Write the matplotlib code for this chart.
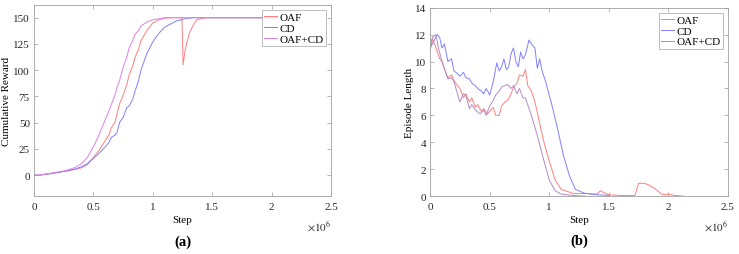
import matplotlib
matplotlib.use("Agg")
import matplotlib.pyplot as plt

plt.rcParams["font.family"] = ["Liberation Serif", "DejaVu Serif"]
plt.rcParams["mathtext.fontset"] = "stix"

# ---------- (a) cumulative reward, step in units of 1e6 ----------
reward_x = [0.0, 0.05, 0.1, 0.15, 0.2, 0.25, 0.3, 0.35, 0.4, 0.45, 0.5, 0.55, 0.6,
            0.63, 0.65, 0.68, 0.7, 0.72, 0.75, 0.78, 0.8, 0.83, 0.85, 0.88, 0.9, 0.95,
            1.0, 1.05, 1.1, 1.15, 1.2, 1.24, 1.245, 1.255, 1.27, 1.29, 1.31, 1.34,
            1.37, 1.4, 1.45, 1.5, 1.6, 1.8, 2.05]
reward_oaf = [0, 0, 1, 1.5, 2.5, 3.5, 4.5, 5.5, 7, 10, 17, 24, 33, 38, 45, 50, 59,
              68, 76, 86, 95, 104, 112, 120, 128, 138, 145, 148, 149.5, 150, 150, 150,
              149, 105, 118, 128, 136, 143, 148, 149, 150, 150, 150, 150, 150]
reward_cd = [0, 0, 1, 1.5, 2.5, 3.5, 4.5, 6, 8, 11, 16, 21, 27, 31, 36, 38, 41, 50,
             55, 64, 66, 72, 80, 90, 100, 116, 127, 135, 141, 144, 147, 148, 148.5,
             148.5, 149, 149.5, 149.5, 150, 150, 150, 150, 150, 150, 150, 150]
reward_both = [0, 0, 1, 2, 3, 4, 5.5, 7.5, 11, 17, 27, 39, 53, 61, 67, 76, 84, 90,
               103, 112, 121, 128, 134, 138, 142, 146, 148, 149, 150, 150, 150, 150,
               150, 150, 150, 150, 150, 150, 150, 150, 150, 150, 150, 150, 150]

# ---------- (b) episode length ----------
len_x_oaf = [0.0, 0.02, 0.05, 0.08, 0.1, 0.13, 0.15, 0.18, 0.2, 0.23, 0.25, 0.28, 0.3,
             0.33, 0.35, 0.38, 0.4, 0.43, 0.45, 0.48, 0.5, 0.53, 0.55, 0.58, 0.6, 0.63,
             0.65, 0.68, 0.7, 0.73, 0.75, 0.78, 0.8, 0.82, 0.85, 0.88, 0.9, 0.95, 1.0,
             1.05, 1.1, 1.2, 1.3, 1.4, 1.43, 1.46, 1.5, 1.6, 1.72, 1.75, 1.8, 1.83, 1.88,
             1.95, 2.0, 2.05, 2.13]
len_oaf = [10.8, 11.7, 11.0, 10.2, 10.0, 9.2, 8.8, 9.0, 8.6, 8.2, 8.0, 7.3, 7.6, 7.0,
           7.3, 6.6, 6.8, 6.3, 6.5, 6.1, 6.3, 6.6, 6.0, 6.0, 6.7, 7.0, 7.1, 7.6, 8.1,
           8.4, 9.0, 8.9, 9.4, 8.2, 7.8, 7.0, 6.2, 4.2, 2.6, 1.2, 0.5, 0.2, 0.2, 0.15,
           0.4, 0.25, 0.1, 0.05, 0.05, 0.95, 0.95, 0.85, 0.6, 0.1, 0.15, 0.05, 0.0]

len_x_cd = [0.0, 0.03, 0.06, 0.08, 0.1, 0.12, 0.15, 0.18, 0.2, 0.23, 0.25, 0.28, 0.3,
            0.33, 0.35, 0.38, 0.4, 0.43, 0.45, 0.47, 0.49, 0.5, 0.53, 0.56, 0.58, 0.6,
            0.62, 0.64, 0.66, 0.68, 0.7, 0.72, 0.74, 0.76, 0.78, 0.8, 0.83, 0.85, 0.88,
            0.9, 0.92, 0.94, 0.97, 1.0, 1.03, 1.07, 1.12, 1.17, 1.22, 1.3, 1.4, 1.5]
len_cd = [11.0, 11.5, 12.0, 11.8, 11.0, 11.3, 10.0, 10.2, 9.3, 9.1, 8.9, 9.2, 8.8, 8.7,
          8.4, 8.2, 8.0, 7.8, 7.6, 8.0, 7.7, 7.5, 8.5, 9.9, 9.3, 9.6, 10.2, 9.4, 9.6,
          10.6, 11.0, 10.0, 9.6, 10.7, 10.2, 10.5, 11.6, 11.3, 11.0, 9.5, 10.2, 9.3, 8.5,
          7.5, 6.5, 5.0, 3.0, 1.5, 0.5, 0.2, 0.1, 0.05]

len_x_both = [0.0, 0.02, 0.05, 0.07, 0.1, 0.13, 0.15, 0.18, 0.2, 0.23, 0.25, 0.28, 0.3,
              0.33, 0.35, 0.38, 0.42, 0.45, 0.47, 0.5, 0.53, 0.55, 0.58, 0.6, 0.65,
              0.68, 0.7, 0.73, 0.75, 0.78, 0.8, 0.85, 0.9, 0.95, 1.0, 1.05, 1.1, 1.2, 1.3]
len_both = [11.2, 11.8, 12.0, 11.0, 10.0, 9.2, 8.7, 8.8, 8.5, 7.6, 7.0, 7.6, 7.5, 6.5,
            6.8, 6.4, 6.1, 6.4, 6.0, 6.7, 7.1, 7.5, 7.8, 8.1, 8.3, 8.0, 8.2, 7.6, 8.0,
            7.3, 7.3, 6.0, 4.5, 2.8, 1.2, 0.4, 0.15, 0.05, 0.0]

series_names = ["OAF", "CD", "OAF+CD"]
red, blue = "#ff7f7f", "#8080ff"

fig = plt.figure(figsize=(7.39, 2.55), dpi=100)
ax1 = fig.add_axes([0.046, 0.227, 0.402, 0.749])
ax2 = fig.add_axes([0.582, 0.227, 0.403, 0.739])

ax1.plot(reward_x, reward_oaf, color=red, lw=0.7, label=series_names[0])
ax1.plot(reward_x, reward_cd, color=blue, lw=0.7, label=series_names[1])
ax1.plot(reward_x, reward_both, color="#e07fe8", lw=0.7, label=series_names[2])
ax1.set_ylim(-20, 162)
ax1.set_yticks([0, 25, 50, 75, 100, 125, 150])
ax1.set_ylabel("Cumulative Reward", fontsize=8)
ax1.yaxis.set_label_coords(-0.076, 0.5)

ax2.plot(len_x_oaf, len_oaf, color=red, lw=0.7, label=series_names[0])
ax2.plot(len_x_cd, len_cd, color=blue, lw=0.7, label=series_names[1])
ax2.plot(len_x_both, len_both, color="#b08cc8", lw=0.7, label=series_names[2])
ax2.set_ylim(0, 14)
ax2.set_yticks(range(0, 15, 2))
ax2.set_ylabel("Episode Length", fontsize=8)
ax2.yaxis.set_label_coords(-0.053, 0.5)

for ax, tag in [(ax1, "(a)"), (ax2, "(b)")]:
    ax.set_xlim(0, 2.5)
    ax.set_xticks([0, 0.5, 1, 1.5, 2, 2.5])
    ax.set_xticklabels(["0", "0.5", "1", "1.5", "2", "2.5"])
    ax.set_xlabel("Step", fontsize=8, labelpad=3)
    ax.tick_params(direction="in", length=3, width=0.5, colors="#999999",
                   labelcolor="#262626", labelsize=8, top=True, right=True, pad=4)
    ax.tick_params(axis="y", pad=3)
    for sp in ax.spines.values():
        sp.set_color("#a0a0a0")
        sp.set_linewidth(0.6)
    ax.text(1.0, -0.12, r"$\times10^6$", transform=ax.transAxes, ha="right",
            va="top", fontsize=8, color="#262626")
    ax.text(0.5, -0.2, tag, transform=ax.transAxes, ha="center", va="top",
            fontsize=10.5, fontweight="bold")
    leg = ax.legend(loc="upper right", fontsize=8, frameon=True, fancybox=False,
                    borderpad=0.2, labelspacing=0.1, handlelength=1.2,
                    handletextpad=0.2, borderaxespad=0.45)
    leg.get_frame().set_edgecolor("#a0a0a0")
    leg.get_frame().set_linewidth(0.6)

fig.savefig("out.png", dpi=100)
